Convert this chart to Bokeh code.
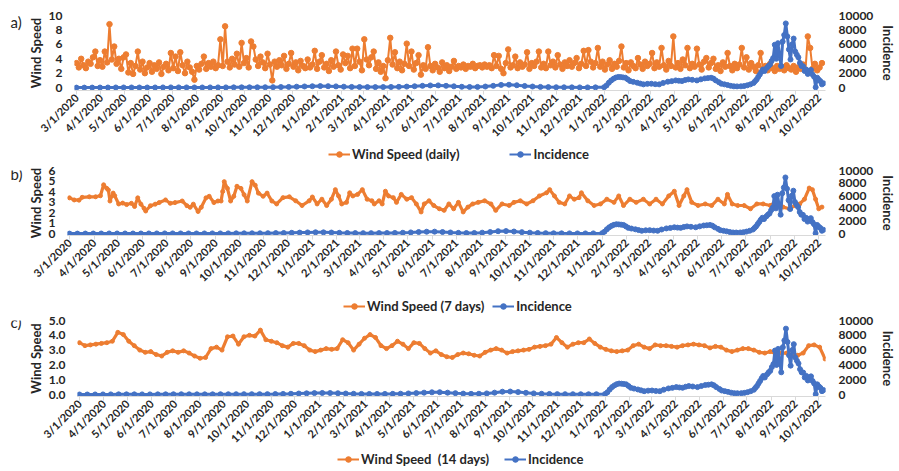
import math
import datetime as dt
from bokeh.plotting import figure
from bokeh.models import (Range1d, LinearAxis, FixedTicker, Legend, LegendItem,
                          Label, PrintfTickFormatter)
from bokeh.layouts import column, row
from bokeh.embed import file_html
from bokeh.resources import INLINE

START = dt.date(2020, 3, 1)

tick_labels = ["3/1/2020", "4/1/2020", "5/1/2020", "6/1/2020", "7/1/2020", "8/1/2020",
               "9/1/2020", "10/1/2020", "11/1/2020", "12/1/2020", "1/1/2021", "2/1/2021",
               "3/1/2021", "4/1/2021", "5/1/2021", "6/1/2021", "7/1/2021", "8/1/2021",
               "9/1/2021", "10/1/2021", "11/1/2021", "12/1/2021", "1/1/2022", "2/1/2022",
               "3/1/2022", "4/1/2022", "5/1/2022", "6/1/2022", "7/1/2022", "8/1/2022",
               "9/1/2022", "10/1/2022"]

# daily wind speed, read every 3rd day from 3/1/2020
wind_daily = [
    3.4, 2.8, 4.0, 3.1, 2.7, 3.6, 3.3, 4.2, 5.0, 3.0,
    3.8, 2.9, 5.0, 3.5, 8.8, 3.9, 5.7, 3.3, 4.0, 2.6,
    4.2, 4.6, 2.1, 3.4, 1.9, 3.0, 5.0, 2.5, 3.6, 2.0,
    2.8, 3.4, 2.2, 3.1, 2.6, 3.5, 1.9, 2.9, 3.3, 2.4,
    4.8, 2.7, 4.3, 2.3, 4.9, 3.1, 2.0, 3.6, 2.8, 2.2,
    1.1, 3.0, 2.5, 3.3, 4.3, 2.6, 3.4, 2.9, 3.6, 2.7,
    3.1, 6.7, 3.0, 8.5, 3.6, 2.8, 4.0, 3.2, 4.7, 2.9,
    6.2, 3.4, 4.1, 2.8, 6.4, 5.7, 3.9, 3.0, 4.3, 3.5,
    2.7, 4.7, 3.2, 1.0, 3.6, 2.9, 3.8, 3.1, 4.4, 2.6,
    3.3, 4.8, 2.9, 3.5, 2.4, 3.7, 3.0, 2.7, 3.9, 2.8,
    3.2, 5.1, 2.6, 3.6, 4.5, 2.8, 3.3, 2.3, 3.8, 2.9,
    5.0, 3.1, 2.5, 4.6, 3.4, 4.4, 2.7, 5.4, 3.0, 5.4,
    3.6, 2.4, 6.7, 3.9, 3.1, 4.2, 5.0, 2.6, 3.5, 2.2,
    3.0, 1.3, 3.8, 6.9, 3.2, 4.9, 2.7, 3.6, 2.4, 3.3,
    6.1, 3.0, 5.0, 2.5, 3.4, 4.5, 1.8, 3.1, 2.6, 5.6,
    3.0, 2.4, 3.3, 2.8, 2.2, 3.5, 2.7, 3.1, 2.3, 2.9,
    3.7, 2.6, 3.0, 2.8, 3.2, 2.6, 3.0, 2.9, 3.3, 2.7,
    3.0, 3.1, 2.8, 3.2, 2.9, 3.1, 2.7, 4.5, 3.0, 4.4,
    2.6, 2.0, 3.4, 5.3, 2.8, 3.1, 4.3, 2.7, 3.5, 2.9,
    3.2, 4.9, 2.6, 3.4, 3.0, 3.6, 5.0, 2.8, 3.3, 2.7,
    5.0, 3.1, 3.6, 2.8, 4.5, 3.2, 2.6, 3.5, 3.0, 3.8,
    2.9, 3.4, 4.1, 2.7, 3.3, 5.1, 3.0, 5.2, 3.6, 2.8,
    3.4, 5.5, 2.9, 3.6, 2.5, 3.2, 3.8, 2.6, 3.3, 2.9,
    3.7, 5.7, 2.8, 3.4, 2.4, 3.5, 3.0, 2.7, 4.1, 3.2,
    2.6, 3.6, 3.0, 3.3, 4.8, 2.7, 3.5, 2.9, 5.5, 3.1,
    2.5, 3.7, 3.0, 7.1, 2.8, 3.4, 2.6, 3.9, 3.1, 5.5,
    2.7, 3.3, 2.9, 5.4, 3.2, 2.5, 3.6, 4.1, 2.8, 3.4,
    4.0, 2.6, 3.1, 2.3, 3.5, 2.9, 4.8, 3.0, 2.4, 3.3,
    2.7, 3.2, 5.5, 2.8, 4.2, 2.5, 3.4, 2.9, 2.3, 3.1,
    4.8, 2.6, 3.0, 2.4, 3.3, 2.7, 2.3, 3.0, 2.6, 2.9,
    2.4, 3.1, 2.7, 2.5, 3.0, 2.2, 2.8, 2.6, 3.2, 2.4,
    7.1, 5.5, 2.6, 3.3, 2.4, 2.8, 3.4,
]

# 7-day wind speed readings (day offset from 3/1/2020, value)
wind7_days = [0, 6, 12, 16, 25, 33, 39, 43, 47, 49, 51, 55, 57, 62, 67, 72, 78, 82, 86, 90,
              94, 96, 102, 108, 113, 121, 127, 133, 142, 148, 152, 156, 162, 166, 172, 176,
              182, 187, 191, 193, 195, 199, 203, 207, 211, 216, 220, 224, 230, 234, 238, 244,
              249, 255, 261, 269, 277, 285, 293, 302, 306, 312, 318, 324, 330, 335, 339, 343,
              349, 353, 357, 363, 369, 375, 381, 384, 390, 394, 398, 402, 408, 412, 418, 425,
              431, 437, 443, 447, 453, 459, 466, 472, 478, 484, 490, 496, 502, 508, 515, 523,
              531, 537, 545, 554, 560, 568, 576, 584, 592, 601, 605, 611, 617, 624, 630, 636,
              642, 645, 653, 661, 669, 677, 686, 692, 698, 706, 714, 723, 731, 739, 747, 755,
              762, 768, 774, 778, 784, 792, 801, 809, 817, 825, 829, 835, 842, 850, 858, 866,
              874, 883, 891, 899, 907, 914, 920, 926, 932, 936, 940, 944, 948]
wind7_vals = [3.4, 3.2, 3.18, 3.45, 3.5, 3.5, 3.6, 4.64, 4.3, 4.15, 3.1, 3.85, 3.6, 2.82, 2.9,
              2.76, 2.88, 2.58, 3.4, 2.8, 2.4, 2.15, 2.65, 2.8, 2.95, 3.2, 2.88, 2.95, 3.1, 2.65,
              2.5, 2.8, 2.1, 2.5, 3.4, 3.55, 2.95, 3.1, 3.1, 4.0, 4.94, 4.3, 3.1, 3.55, 4.5, 4.3,
              3.7, 3.1, 4.94, 4.6, 3.85, 3.55, 3.85, 3.1, 2.82, 3.42, 3.5, 3.12, 2.67, 3.12,
              3.48, 2.82, 3.27, 2.67, 3.27, 4.18, 3.58, 2.82, 2.97, 3.88, 3.58, 3.73, 4.18,
              3.27, 3.12, 2.82, 3.12, 2.82, 4.03, 3.58, 3.42, 2.97, 3.73, 3.27, 3.42, 2.82,
              2.06, 2.82, 3.12, 2.67, 2.36, 2.21, 2.82, 2.36, 2.97, 2.06, 2.52, 2.82, 2.97,
              3.12, 2.82, 2.21, 2.82, 2.67, 2.97, 3.12, 2.82, 3.12, 3.58, 3.88, 4.18, 3.58,
              2.97, 2.82, 3.58, 3.27, 3.42, 3.88, 3.12, 2.67, 2.82, 3.27, 2.97, 3.58, 2.67,
              3.27, 2.97, 3.27, 2.82, 3.27, 2.82, 3.58, 4.03, 2.67, 3.58, 4.18, 2.97, 2.67,
              2.82, 2.67, 3.27, 2.82, 3.73, 2.82, 2.67, 2.67, 2.36, 2.82, 2.82, 2.67, 3.12,
              2.52, 2.36, 2.67, 2.82, 3.27, 4.33, 4.18, 3.27, 2.36, 2.52]

# 14-day wind speed, read weekly from 3/1/2020
wind_14 = [3.5, 3.3, 3.35, 3.4, 3.45, 3.5, 3.6, 4.2, 4.05, 3.6,
           3.3, 3.0, 2.85, 2.9, 2.7, 2.6, 2.85, 2.95, 2.85, 2.95,
           2.8, 2.6, 2.45, 2.5, 3.1, 3.2, 3.0, 3.9, 3.95, 3.4,
           3.9, 4.0, 3.95, 4.35, 3.7, 3.6, 3.5, 3.3, 3.2, 3.45,
           3.45, 3.3, 3.0, 2.9, 3.0, 3.1, 3.05, 3.1, 3.7, 3.5,
           3.0, 3.4, 3.8, 4.05, 3.85, 3.3, 3.1, 3.3, 3.6, 3.4,
           3.1, 3.5, 3.45, 3.1, 2.8, 2.95, 2.7, 2.55, 2.5, 2.7,
           2.8, 2.75, 2.65, 2.6, 2.85, 3.0, 3.1, 3.0, 2.8, 2.9,
           2.95, 3.0, 3.05, 3.2, 3.25, 3.3, 3.4, 3.85, 3.5, 3.2,
           3.4, 3.5, 3.5, 3.75, 3.45, 3.2, 3.05, 2.95, 2.9, 2.95,
           3.0, 3.3, 3.4, 3.2, 3.1, 3.35, 3.3, 3.3, 3.25, 3.2,
           3.3, 3.35, 3.4, 3.35, 3.3, 3.15, 3.25, 3.2, 3.0, 2.9,
           3.0, 3.1, 3.1, 3.0, 2.85, 2.8, 2.9, 2.75, 2.8, 2.8,
           2.65, 2.65, 2.8, 3.3, 3.35, 3.2, 2.4]

# incidence readings (day offset from 3/1/2020, value)
inc_days = [0, 10, 20, 30, 40, 50, 60, 70, 80, 90, 100, 110, 120, 130, 140, 150, 160, 170,
            180, 190, 200, 210, 220, 230, 240, 250, 260, 270, 280, 290, 300, 310, 320, 330,
            340, 350, 360, 370, 380, 390, 400, 410, 420, 430, 440, 450, 460, 470, 480, 490,
            500, 510, 520, 530, 540, 550, 560, 570, 580, 590, 600, 610, 620, 630, 640, 650,
            660, 671, 674, 677, 680, 683, 686, 689, 692, 695, 698, 701, 704, 708, 713, 717,
            721, 726, 731, 736, 741, 746, 752, 757, 762, 766, 770, 774, 778, 783, 789, 794,
            799, 803, 807, 810, 813, 817, 820, 824, 828, 832, 836, 840, 845, 849, 853, 857,
            861, 863, 865, 867, 869, 871, 873, 875, 878, 880, 882, 884, 886, 888, 890, 892,
            894, 896, 898, 900, 902, 904, 906, 908, 910, 912, 914, 916, 918, 920, 922, 924,
            926, 928, 930, 932, 934, 936, 938, 940, 942, 944, 946, 948, 950]
inc_vals = [0, 0, 5, 10, 15, 20, 20, 20, 15, 15, 20, 25, 30, 30, 25, 20, 20, 25,
            30, 30, 35, 40, 40, 45, 50, 60, 80, 100, 130, 160, 190, 210, 200, 170,
            130, 100, 80, 70, 70, 80, 90, 110, 140, 190, 250, 300, 310, 250, 180, 120,
            90, 100, 150, 250, 380, 400, 330, 230, 150, 100, 70, 50, 40, 35, 30, 30,
            35, 60, 300, 680, 1000, 1230, 1400, 1480, 1460, 1420, 1370, 1150, 910, 800, 680, 560,
            450, 520, 540, 480, 450, 650, 820, 900, 1000, 950, 910, 1050, 1140, 1080, 1000, 1150,
            1280, 1320, 1370, 1250, 1000, 750, 540, 450, 360, 250, 180, 170, 180, 220, 320, 450,
            640, 900, 1140, 1500, 1830, 2200, 2510, 2300, 2740, 3000, 3200, 3700, 4110, 5940, 4000, 6160,
            4570, 3000, 6390, 7300, 8900, 7100, 5300, 3900, 6000, 6800, 5000, 4570, 4200, 3420, 3000, 2970,
            2300, 2510, 1900, 2280, 2450, 1830, 1500, 50, 1370, 1100, 900, 450, 600]

ORANGE = "#ED7D31"
BLUE = "#4472C4"
FONT = "Lato"
TXT = "#262626"
X0, X1 = -2.5, 952.5
LET_W = 24
MAIN_W = 899 - LET_W

tick_days = [(dt.datetime.strptime(s, "%m/%d/%Y").date() - START).days for s in tick_labels]
overrides = {d: s for d, s in zip(tick_days, tick_labels)}


def blank(width, height, xr, yr):
    f = figure(width=width, height=height, x_range=xr, y_range=yr,
               output_backend="svg", toolbar_location=None,
               x_axis_type=None, y_axis_type=None, min_border=0,
               min_border_left=0, min_border_right=0, min_border_top=0, min_border_bottom=0)
    f.outline_line_color = None
    f.xgrid.visible = False
    f.ygrid.visible = False
    return f


def letter_fig(letter, height, center_gap):
    f = blank(LET_W, height, Range1d(0, LET_W), Range1d(0, height))
    f.add_layout(Label(x=10, y=height - center_gap, text=letter, text_font=FONT,
                       text_font_size="15px", text_color=TXT,
                       text_baseline="middle", text_align="left"))
    return f


def legend_fig(wind_name, height, leg_x, leg_y, spacing):
    f = blank(899, height, Range1d(0, 1), Range1d(0, 1))
    wl = f.line([-3, -2], [-3, -2], color=ORANGE, line_width=2)
    ws = f.scatter([-3], [-3], size=5, color=ORANGE)
    il = f.line([-3, -2], [-3, -2], color=BLUE, line_width=2)
    isc = f.scatter([-3], [-3], size=5, color=BLUE)
    legend = Legend(items=[LegendItem(label=wind_name, renderers=[wl, ws]),
                           LegendItem(label="Incidence", renderers=[il, isc])],
                    orientation="horizontal", location=(leg_x, leg_y),
                    spacing=spacing, margin=0, padding=0,
                    glyph_width=22, glyph_height=14, label_height=14, label_standoff=2,
                    border_line_alpha=0, background_fill_alpha=0,
                    label_text_font=FONT, label_text_font_size="13px",
                    label_text_font_style="bold", label_text_color=TXT)
    f.add_layout(legend)
    return f


def build(wind_x, wind_y, y_lo, y_hi, y_ticks, r_lo, height, top, bottom,
          w_lw, w_ms, left_fmt=None):
    p = figure(width=MAIN_W, height=height, x_range=Range1d(X0, X1),
               y_range=Range1d(y_lo, y_hi), output_backend="svg", toolbar_location=None,
               min_border_left=63 - LET_W, min_border_right=61, min_border_top=top,
               min_border_bottom=bottom)
    p.extra_y_ranges = {"inc": Range1d(r_lo, 10000)}
    p.outline_line_color = None
    p.xgrid.visible = False
    p.ygrid.visible = False

    p.line(wind_x, wind_y, color=ORANGE, line_width=w_lw)
    p.scatter(wind_x, wind_y, size=w_ms, color=ORANGE)
    p.line(inc_days, inc_vals, color=BLUE, line_width=3, y_range_name="inc")
    p.scatter(inc_days, inc_vals, size=5, color=BLUE, y_range_name="inc")

    xa = p.xaxis[0]
    xa.ticker = FixedTicker(ticks=tick_days)
    xa.major_label_overrides = overrides
    xa.major_label_orientation = math.pi / 4
    xa.axis_line_color = "#d9d9d9"
    xa.major_tick_line_color = "#d9d9d9"
    xa.major_tick_out = 4
    xa.major_tick_in = 0
    xa.minor_tick_line_color = None
    xa.major_label_standoff = 1
    xa.major_label_text_font = FONT
    xa.major_label_text_font_size = "11px"
    xa.major_label_text_font_style = "bold"
    xa.major_label_text_color = TXT

    ya = p.yaxis[0]
    ya.ticker = FixedTicker(ticks=y_ticks)
    if left_fmt:
        ya.formatter = PrintfTickFormatter(format=left_fmt)
    ya.axis_line_color = None
    ya.major_tick_line_color = None
    ya.minor_tick_line_color = None
    ya.major_label_standoff = 6
    ya.major_label_text_font = FONT
    ya.major_label_text_font_size = "12px"
    ya.major_label_text_font_style = "bold"
    ya.major_label_text_color = TXT
    ya.axis_label = "Wind Speed"
    ya.axis_label_standoff = 2
    ya.axis_label_text_font = FONT
    ya.axis_label_text_font_size = "13px"
    ya.axis_label_text_font_style = "bold"
    ya.axis_label_text_color = TXT

    ra = LinearAxis(y_range_name="inc",
                    ticker=FixedTicker(ticks=[0, 2000, 4000, 6000, 8000, 10000]))
    ra.axis_line_color = None
    ra.major_tick_line_color = None
    ra.minor_tick_line_color = None
    ra.major_label_standoff = 7
    ra.major_label_text_font = FONT
    ra.major_label_text_font_size = "12px"
    ra.major_label_text_font_style = "bold"
    ra.major_label_text_color = TXT
    ra.axis_label = "Incidence"
    ra.axis_label_standoff = 4
    ra.axis_label_text_font = FONT
    ra.axis_label_text_font_size = "13px"
    ra.axis_label_text_font_style = "bold"
    ra.axis_label_text_color = TXT
    p.add_layout(ra, "right")
    return p


daily_x = [3 * i for i in range(len(wind_daily))]
w14_x = [7 * k for k in range(len(wind_14))]

# vertical plan: A 146 | legend 16 | B 129 | legend 23 | C 138 | legend 19  = 471
pa = build(daily_x, wind_daily, -0.4, 10, [0, 2, 4, 6, 8, 10], -400, 146, 15, 55, 2.0, 5.5)
pb = build(wind7_days, wind7_vals, -0.18, 6, [0, 1, 2, 3, 4, 5, 6], -300, 129, 8, 53, 3.2, 4)
pc = build(w14_x, wind_14, -0.135, 5, [0, 1, 2, 3, 4, 5], -270, 138, 6, 56, 3.2, 4,
           left_fmt="%.1f")

la = letter_fig("a)", 146, 12)
lb = letter_fig("b)", 129, 6)
lc = letter_fig("c)", 138, 3)

ga = legend_fig("Wind Speed (daily)", 16, 328, 0, 50)
gb = legend_fig("Wind Speed (7 days)", 23, 343, 0, 8)
gc = legend_fig("Wind Speed  (14 days)", 19, 337, 4, 15)

layout = column(row(la, pa), ga, row(lb, pb), gb, row(lc, pc), gc)
open("out.html", "w").write(file_html(layout, INLINE))
